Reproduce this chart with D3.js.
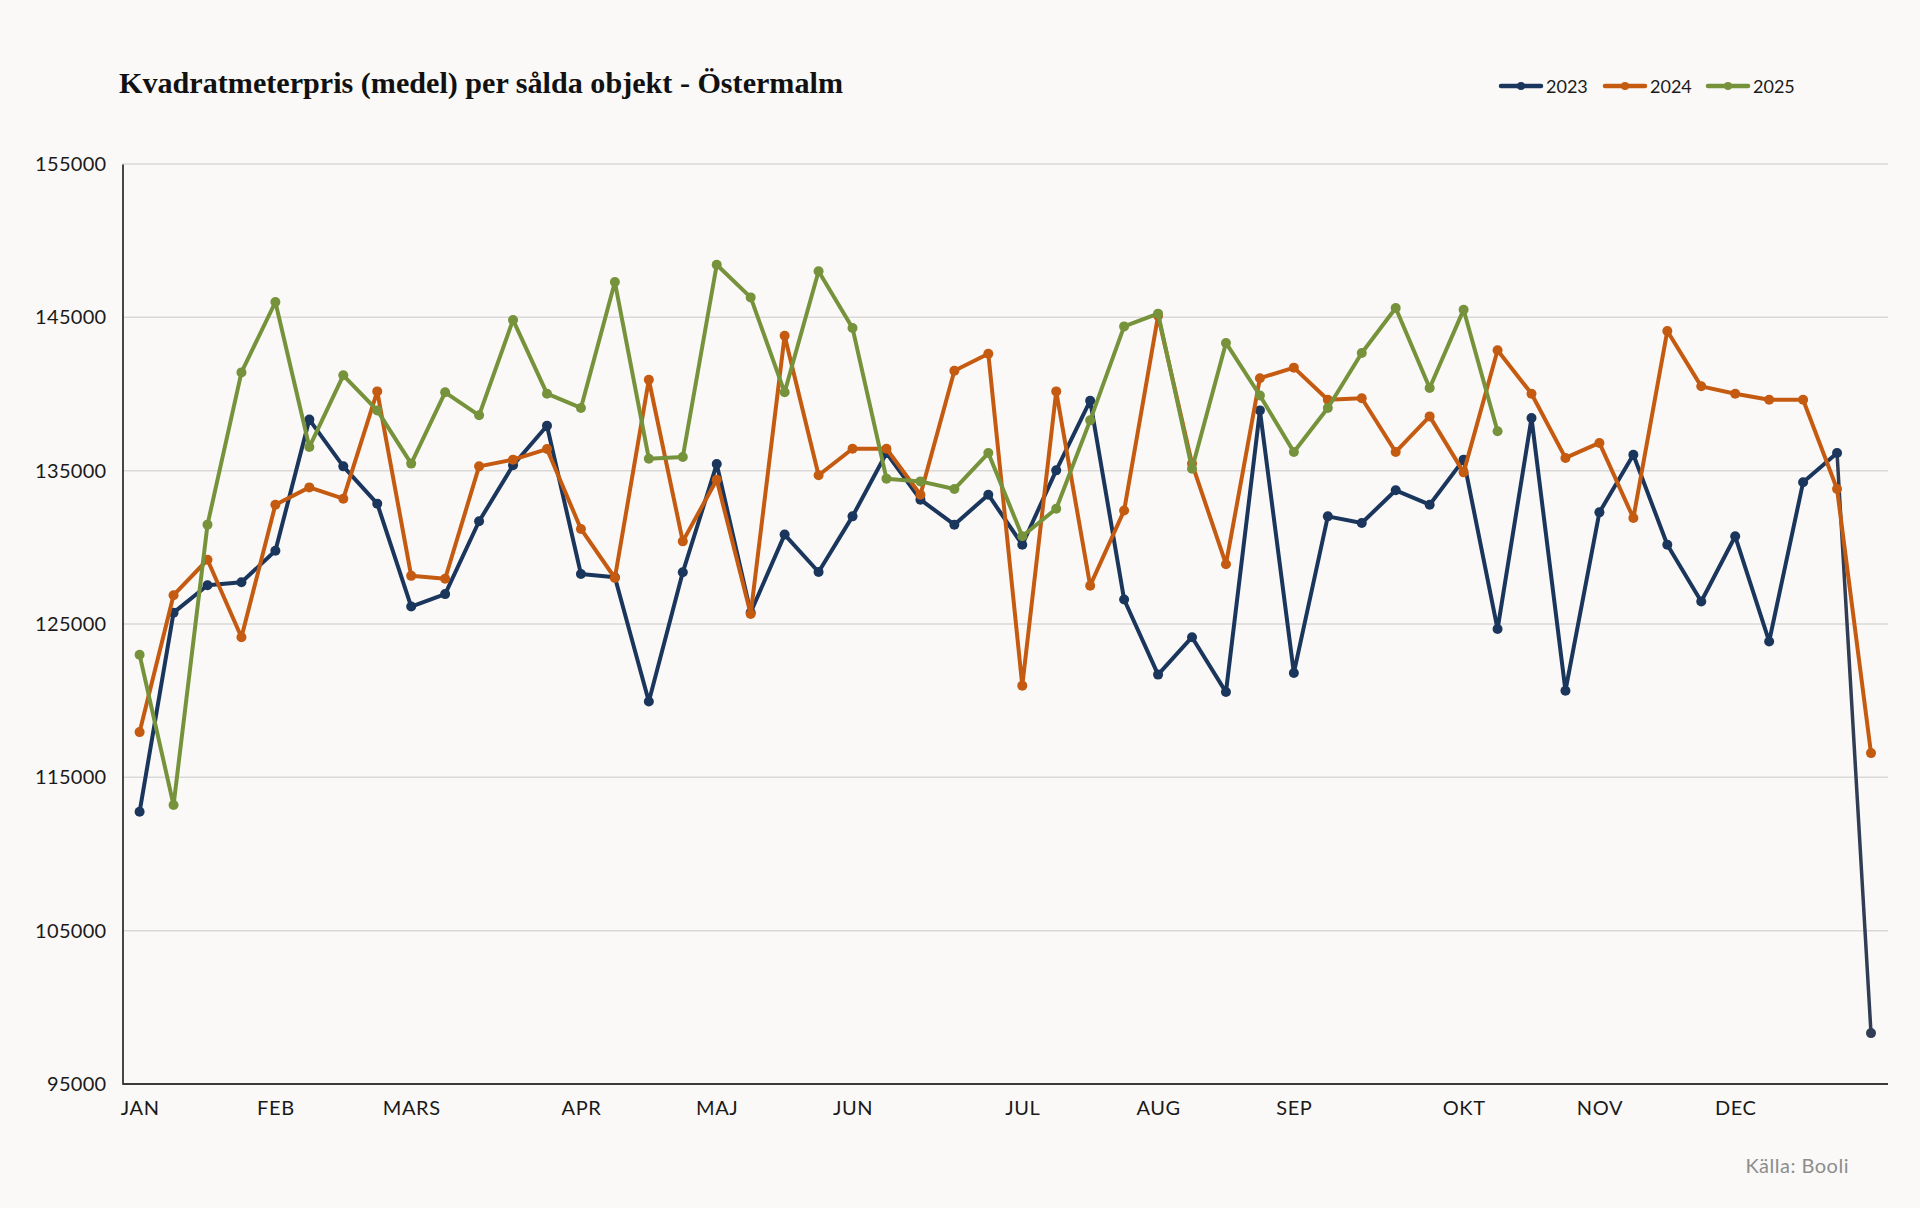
<!DOCTYPE html>
<html>
<head>
<meta charset="utf-8">
<script src="https://cdn.jsdelivr.net/npm/d3@7"></script>
<style>
  html, body { margin: 0; padding: 0; background: #faf9f7; }
  svg { display: block; }
</style>
</head>
<body>
<svg id="chart" width="1920" height="1208"></svg>
<script>
// ---- Data (weekly, index 0..51) ----
const monthLabels = ["JAN","FEB","MARS","APR","MAJ","JUN","JUL","AUG","SEP","OKT","NOV","DEC"];
const monthWeeks  = [0, 4, 8, 13, 17, 21, 26, 30, 34, 39, 43, 47];
const yTicks = [95000, 105000, 115000, 125000, 135000, 145000, 155000];
const seriesNames = ["2023", "2024", "2025"];
const seriesColors = ["#1b365d", "#c55a11", "#76933c"];

const values2023 = [112750, 125740, 127530, 127720, 129780, 138330, 135280, 132850, 126140, 126950,
  131700, 135350, 137930, 128260, 128050, 119950, 128370, 135430, 125750, 130830,
  128390, 132020, 136150, 133110, 131480, 133430, 130170, 135020, 139560, 126600,
  121700, 124140, 120560, 138930, 121810, 132020, 131590, 133720, 132780, 135720,
  124670, 138430, 120650, 132280, 136040, 130170, 126470, 130720, 123860, 134240,
  136150, 98320];
const values2024 = [117950, 126880, 129190, 124140, 132780, 133910, 133170, 140170, 128140, 127950,
  135280, 135720, 136410, 131200, 128000, 140930, 130390, 134410, 125650, 143800,
  134700, 136430, 136430, 133430, 141520, 142630, 120980, 140170, 127500, 132400,
  145100, 135460, 128900, 141030, 141720, 139630, 139720, 136220, 138540, 134890,
  142850, 140020, 135830, 136810, 131910, 144110, 140500, 140020, 139630, 139630,
  133800, 116580];
const values2025 = [122990, 113190, 131480, 141410, 146000, 136540, 141220, 138930, 135460, 140110,
  138610, 144830, 140020, 139090, 147300, 135780, 135890, 148430, 146300, 140110,
  148000, 144300, 134480, 134300, 133800, 136150, 130720, 132520, 138280, 144410,
  145240, 135130, 143330, 139900, 136220, 139090, 142670, 145610, 140390, 145500,
  137570];
const allSeries = [values2023, values2024, values2025];

// ---- Layout ----
const W = 1920, H = 1208;
const plot = { left: 122.5, right: 1888, top: 164, bottom: 1084 };
const svg = d3.select("#chart");
svg.append("rect").attr("width", W).attr("height", H).attr("fill", "#faf9f7");

const x = d3.scaleLinear().domain([0, 51]).range([139.6, 1871]);
const y = d3.scaleLinear().domain([95000, 155000]).range([plot.bottom, plot.top]);

const sans = "Lato, 'Open Sans', sans-serif";

// gridlines
const grid = svg.append("g");
grid.selectAll("line").data(yTicks.filter(d => d > 95000)).join("line")
  .attr("x1", plot.left).attr("x2", plot.right)
  .attr("y1", d => y(d)).attr("y2", d => y(d))
  .attr("stroke", "#d9d9d9").attr("stroke-width", 1.5);

// y axis
const yAxis = d3.axisLeft(y).tickValues(yTicks).tickSize(0).tickPadding(16).tickFormat(d => d);
const gy = svg.append("g").attr("transform", `translate(${plot.left},0)`).call(yAxis);
gy.select(".domain").attr("stroke", "#1a1a1a").attr("stroke-width", 1.6);
gy.selectAll("text").attr("font-family", sans).attr("font-size", 20)
  .attr("fill", "#1a1a1a").attr("letter-spacing", 0.3);

// x axis
const xAxis = d3.axisBottom(x).tickValues(monthWeeks).tickSize(0).tickPadding(17)
  .tickFormat((d, i) => monthLabels[i]);
const gx = svg.append("g").attr("transform", `translate(0,${plot.bottom})`).call(xAxis);
gx.select(".domain").attr("d", `M${plot.left},0H${plot.right}`).attr("stroke", "#3a3a3a").attr("stroke-width", 2);
gx.selectAll("text").attr("font-family", sans).attr("font-size", 20)
  .attr("fill", "#1a1a1a").attr("letter-spacing", 0.6);

// lines
const line = d3.line().x((d, i) => x(i)).y(d => y(d));
const linesG = svg.append("g");
allSeries.forEach((vals, s) => {
  let main = vals, tail = null;
  if (s === 0) { main = vals.slice(0, vals.length - 1); tail = vals.slice(vals.length - 2); }
  linesG.append("path").datum(main).attr("d", line)
    .attr("fill", "none").attr("stroke", seriesColors[s]).attr("stroke-width", 4)
    .attr("stroke-linejoin", "round").attr("stroke-linecap", "round");
  if (tail) {
    const off = vals.length - 2;
    linesG.append("path").datum(tail)
      .attr("d", d3.line().x((d, i) => x(i + off)).y(d => y(d)))
      .attr("fill", "none").attr("stroke", "#313d54").attr("stroke-width", 3.5)
      .attr("stroke-linecap", "round");
  }
  linesG.append("g").selectAll("circle").data(vals).join("circle")
    .attr("cx", (d, i) => x(i)).attr("cy", d => y(d)).attr("r", 5)
    .attr("fill", (d, i) => (s === 0 && i === vals.length - 1) ? "#313d54" : seriesColors[s]);
});

// title
svg.append("text").attr("x", 119).attr("y", 92.5)
  .attr("font-family", "'Liberation Serif', 'DejaVu Serif', serif").attr("font-weight", "bold")
  .attr("font-size", 30).attr("fill", "#111")
  .attr("textLength", 724).attr("lengthAdjust", "spacingAndGlyphs")
  .text("Kvadratmeterpris (medel) per sålda objekt - Östermalm");

// legend
const legX = [1499, 1603, 1706];
const leg = svg.append("g");
seriesNames.forEach((n, i) => {
  const g = leg.append("g");
  g.append("line").attr("x1", legX[i] + 2).attr("x2", legX[i] + 42).attr("y1", 86).attr("y2", 86)
    .attr("stroke", seriesColors[i]).attr("stroke-width", 4.5).attr("stroke-linecap", "round");
  g.append("circle").attr("cx", legX[i] + 22).attr("cy", 86).attr("r", 4).attr("fill", seriesColors[i]);
  g.append("text").attr("x", legX[i] + 47).attr("y", 92.5)
    .attr("font-family", sans).attr("font-size", 18).attr("fill", "#1a1a1a")
    .text(n);
});

// source
svg.append("text").attr("x", 1849).attr("y", 1172.5).attr("text-anchor", "end")
  .attr("font-family", sans).attr("font-size", 20).attr("fill", "#8c8c8c")
  .attr("letter-spacing", 0.5)
  .text("Källa: Booli");
</script>
</body>
</html>
